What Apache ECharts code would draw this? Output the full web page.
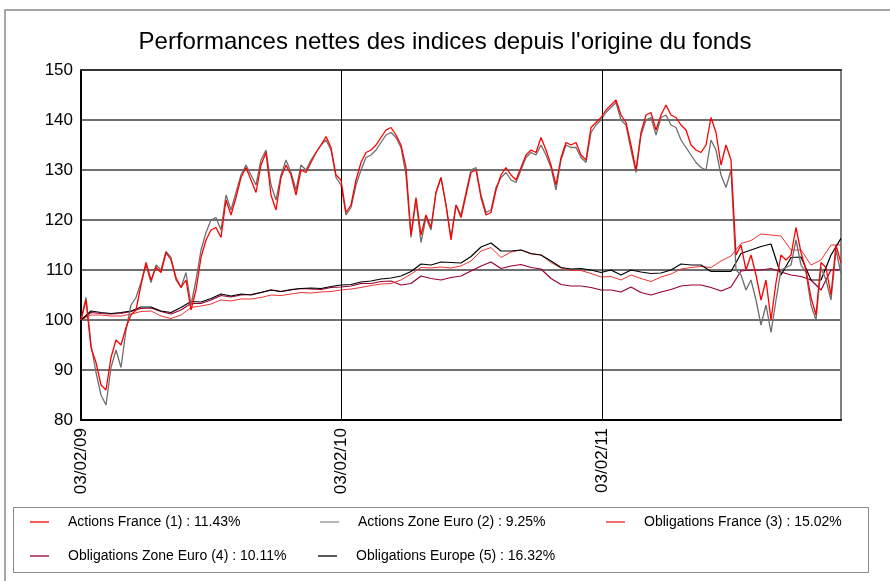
<!DOCTYPE html>
<html>
<head>
<meta charset="utf-8">
<script src="https://cdn.jsdelivr.net/npm/echarts@6/dist/echarts.min.js"></script>
<style>html,body{margin:0;padding:0;background:#fff}#c{width:890px;height:581px}</style>
</head>
<body>
<div id="c"></div>
<script>
// Tick labels (x axis: one label per year from the origin)
const xLabels = ['03/02/09', '03/02/10', '03/02/11'];
const yTicks = [80, 90, 100, 110, 120, 130, 140, 150];

// Series names
const names = [
  'Actions France (1) : 11.43%',
  'Actions Zone Euro (2) : 9.25%',
  'Obligations France (3) : 15.02%',
  'Obligations Zone Euro (4) : 10.11%',
  'Obligations Europe (5) : 16.32%'
];

// Weekly values (equity indices)
const actionsFrance = [100,104,94.5,91.5,87,86,92.5,96,95,98.5,101,102,107,111.5,108,110.5,109.5,113.5,112,108.5,
  106.5,108,102,106,112.5,116,118,118.5,116.5,124,121,124.5,128.5,130.5,128,125.5,131,133.5,125,122,
  128.5,131,129,125,130,129.5,131.5,133.5,135,136.7,134.5,129,128,121.5,123,128,131.5,133.5,134,135,
  136.5,138,138.5,137,135,130.5,117,124.5,117,121,118.5,125.5,128.5,123,116,123,120.5,125,129.5,130,
  124.5,121,121.5,126,129,130.5,129,128,130.5,133,134,133.5,136.5,134,131,127,132.5,135.5,135,135.5,
  133,132,138.5,139.5,140.5,142,143,144,141,139.5,135,130,137.5,141,141.5,138,141,143,141,140.5,
  139,138,135,134,133.5,135,140.5,137.5,131,135,132,113,115,110,113,109,104,108,100,107.5,
  113,112,113,118.5,113.5,110,104.5,101,111.5,110.5,105,115,111.43];
const actionsZoneEuro = [100,104.5,95,89.5,85,83,90.5,94,90.5,98,103,104.5,107.5,111,107.5,111,110,113.7,112.5,108,
  106.5,109.5,103,108,114,117.5,120,120.5,118,125,122,125.5,129,131,129,127,132,134,127,124,
  129,132,129.5,126,131,130,132,133.5,135,136,134,128.5,127,121,122.5,127,130,132.5,133,134,
  135.5,137,137.5,136.5,134.5,129,116.5,124,115.5,120.5,118,125.5,128.5,123,116.5,123,121,125.5,130,130.5,
  125,121.5,122,126.5,128.5,129.5,128,127.5,130,132.5,133.5,133,135,133,130.5,126,132,135,134.5,134.5,
  132.5,131.5,137.5,139,140,141.5,142.5,143.5,140,139,134,129.5,137,140,140.5,137,140.5,141,139,138.5,
  136,134.5,133,131.5,130.5,130,136,134,129,126.5,130,110,109,106,108,104,99,103,97.5,104,
  110,110.5,111,116,111,109.5,103,100,110.5,108,104,114,109.25];

// Fortnightly values (bond indices)
const obligationsFrance = [100,101,101,100.8,100.8,101.2,101.7,101.8,100.8,100.3,101,102.5,102.8,103.2,104,103.8,104.2,104.2,104.5,105,
  104.9,105.2,105.5,105.4,105.6,105.7,106,106.2,106.5,106.9,107.2,107.3,108,109.2,110.5,110.4,110.6,110.4,110.8,111.8,
  113.8,114.5,112.5,113.6,114,113.2,113,111.5,110.4,109.9,109.9,109.3,108.6,108.7,108,109,108.3,107.7,108.6,109.2,
  110.2,110.5,110.7,110.5,111.8,112.8,115.3,115.9,117.2,117,116.8,114,114,111,112,115,115.02];
const obligationsZoneEuro = [100,101.5,101.3,101.2,101.3,101.7,102.3,102.4,101.7,101.2,102,103.3,103.3,104,104.9,104.6,105,105.1,105.5,106,
  105.7,106,106.3,106.2,106.1,106.5,106.6,106.8,107.3,107.3,107.7,107.8,107,107.3,108.8,108.3,108,108.5,108.8,109.8,
  110.8,111.6,110.3,110.8,111.1,110.5,110.2,108.3,107.1,106.8,106.8,106.5,106,106,105.6,106.6,105.5,105,105.6,106.1,
  106.8,107,107,106.5,105.8,106.6,109.8,110,110,110.3,109.6,109,108.7,108,106,110,110.11];
const obligationsEurope = [100,101.8,101.5,101.3,101.5,101.8,102.6,102.6,101.8,101.5,102.5,103.7,103.6,104.3,105.2,104.8,105.2,105,105.5,106,
  105.7,106.1,106.3,106.4,106.3,106.7,107,107.1,107.6,107.8,108.2,108.4,108.8,109.7,111.2,111,111.6,111.5,111.4,112.7,
  114.6,115.4,113.8,113.8,114,113.3,113,111.8,110.5,110.2,110.3,110,109.5,110,109,110,109.6,109.3,109.4,110,
  111.2,111,111,109.7,109.7,109.7,113.3,114,114.7,115.2,109,112.5,112.6,108,108,113,116.32];

const YEAR = 365;           // days between labelled ticks
const LAST_DAY = 1064;      // last observation, in days since origin

function withDays(vals, step) { return vals.map((v, k) => [k * step, v]); }

const FONT = '"Liberation Sans", Arial, sans-serif';
const chart = echarts.init(document.getElementById('c'), null, { renderer: 'canvas' });

function legendAt(name, left, top) {
  return {
    data: [name], left: left, top: top, padding: 0, selectedMode: false,
    icon: 'rect', itemWidth: 19, itemHeight: 1.3,
    textStyle: { fontFamily: FONT, fontSize: 14, color: '#000', padding: [0, 0, 0, 14] }
  };
}

const seriesBase = { type: 'line', showSymbol: false, symbol: 'none', animation: false, silent: true };

chart.setOption({
  animation: false,
  backgroundColor: '#fff',
  title: {
    text: 'Performances nettes des indices depuis l\'origine du fonds',
    left: 'center', top: 30, padding: 0,
    textStyle: { fontFamily: FONT, fontSize: 24, fontWeight: 'normal', color: '#000' }
  },
  graphic: [
    { type: 'rect', shape: { x: 5, y: 10, width: 900, height: 600 }, style: { fill: 'none', stroke: '#8a8a8a', lineWidth: 1.5 }, z: -1 },
    { type: 'rect', shape: { x: 13.5, y: 507.5, width: 855, height: 65 }, style: { fill: 'none', stroke: '#8a8a8a', lineWidth: 1 }, z: -1 }
  ],
  legend: [
    legendAt(names[0], 30, 515),
    legendAt(names[1], 320, 515),
    legendAt(names[2], 606, 515),
    legendAt(names[3], 30, 549),
    legendAt(names[4], 318, 549)
  ],
  grid: { left: 81, right: 49, top: 70, bottom: 161, show: false },
  xAxis: [
    {
      type: 'value', min: 0, max: LAST_DAY, interval: YEAR,
      axisLine: { show: true, onZero: false, lineStyle: { color: '#000', width: 2 } },
      axisTick: { show: false },
      splitLine: { show: false },
      axisLabel: {
        rotate: 90, margin: 8, fontFamily: FONT, fontSize: 17, color: '#000',
        showMaxLabel: false,
        formatter: function (v) { return (v % YEAR === 0) ? (xLabels[v / YEAR] || '') : ''; }
      }
    },
    {
      type: 'value', position: 'top', min: 0, max: 1,
      axisLine: { show: true, onZero: false, lineStyle: { color: '#333', width: 2 } },
      axisTick: { show: false }, axisLabel: { show: false }, splitLine: { show: false }
    }
  ],
  yAxis: [
    {
      type: 'value', min: yTicks[0], max: yTicks[yTicks.length - 1], interval: 10,
      axisLine: { show: true, onZero: false, lineStyle: { color: '#000', width: 2 } },
      axisTick: { show: false },
      splitLine: { show: true, lineStyle: { color: '#707070', width: 2 } },
      axisLabel: { margin: 8, fontFamily: FONT, fontSize: 17, color: '#000' }
    },
    {
      type: 'value', position: 'right', min: 0, max: 1,
      axisLine: { show: true, onZero: false, lineStyle: { color: '#808080', width: 2 } },
      axisTick: { show: false }, axisLabel: { show: false }, splitLine: { show: false }
    }
  ],
  series: [
    Object.assign({}, seriesBase, {
      name: names[3], color: '#990033', data: withDays(obligationsZoneEuro, 14),
      lineStyle: { color: '#990033', width: 1.2 }, z: 3
    }),
    Object.assign({}, seriesBase, {
      name: names[2], color: '#ee2222', data: withDays(obligationsFrance, 14),
      lineStyle: { color: '#ee3333', width: 1 }, z: 3
    }),
    Object.assign({}, seriesBase, {
      name: names[4], color: '#000000', data: withDays(obligationsEurope, 14),
      lineStyle: { color: '#000000', width: 1.2 }, z: 3
    }),
    Object.assign({}, seriesBase, {
      name: names[1], color: '#909090', data: withDays(actionsZoneEuro, 7),
      lineStyle: { color: '#6e6e6e', width: 1.3 }, z: 4
    }),
    Object.assign({}, seriesBase, {
      name: names[0], color: '#ff0000', data: withDays(actionsFrance, 7),
      lineStyle: { color: '#ff0000', width: 1.3 }, z: 5,
      markLine: {
        silent: true, symbol: ['none', 'none'], animation: false,
        label: { show: false },
        lineStyle: { color: '#000', width: 1, type: 'solid' },
        data: [{ xAxis: YEAR }, { xAxis: 2 * YEAR }]
      }
    })
  ]
});
</script>
</body>
</html>
